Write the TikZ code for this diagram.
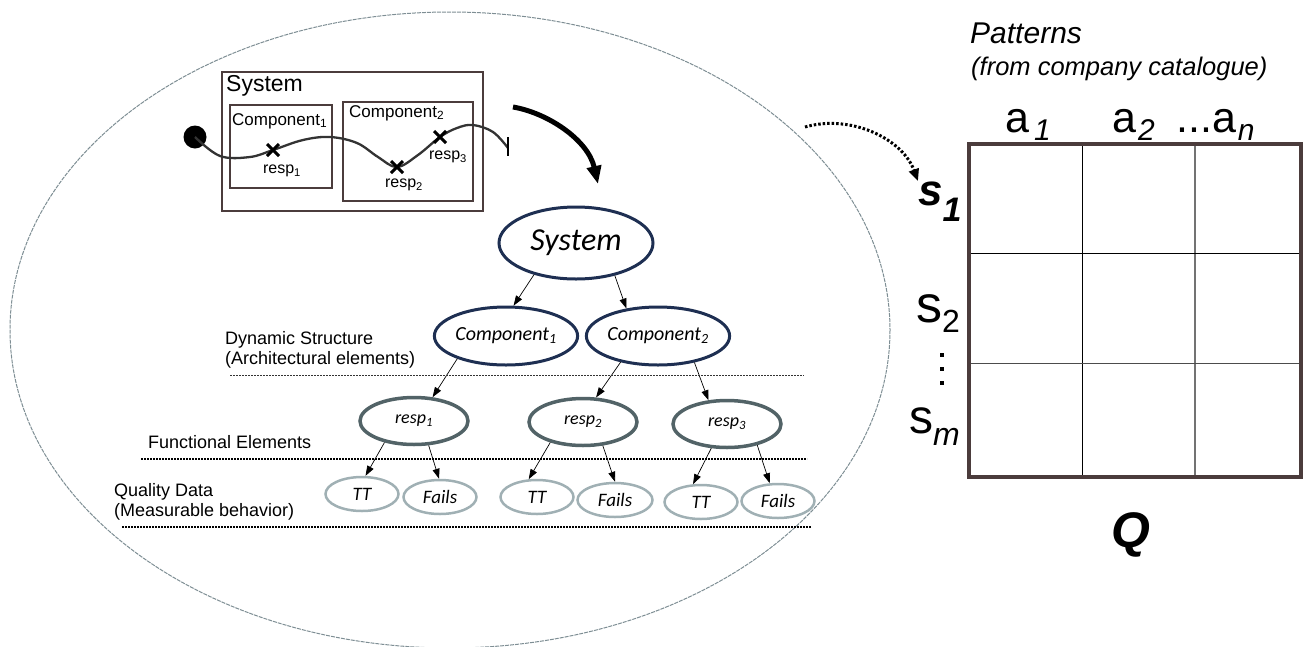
\documentclass[tikz,border=0pt]{standalone}
\usepackage{fontspec}
\setmainfont{Liberation Sans}
\newfontfamily\handfont{Carlito}
\usetikzlibrary{shapes.geometric,arrows.meta}
\definecolor{ellgray}{HTML}{7E8E94}
\definecolor{navyc}{HTML}{1E2F52}
\definecolor{respc}{HTML}{526367}
\definecolor{qualc}{HTML}{A0B0B4}
\definecolor{boxc}{HTML}{4B3C3C}
\definecolor{wavec}{HTML}{333333}
\newcommand{\myfs}[1]{\fontsize{#1}{#1}\selectfont}
\begin{document}
\begin{tikzpicture}[x=1pt,y=-1pt,
  lvlA/.style={ellipse, draw=navyc, line width=3pt, inner sep=0pt, font=\handfont\itshape\myfs{20}},
  lvlB/.style={ellipse, draw=respc, line width=3.5pt, inner sep=0pt, minimum width=108pt, minimum height=47pt, font=\handfont\itshape\myfs{18}},
  lvlC/.style={ellipse, draw=qualc, line width=2.5pt, inner sep=0pt, minimum width=73pt, minimum height=34pt, font=\handfont\itshape\myfs{19}},
  tedge/.style={-{Triangle[length=10pt,width=7pt]}, line width=0.7pt},
  lbl/.style={anchor=west, align=left, font=\myfs{18}, inner sep=0pt},
  sbox/.style={draw=boxc, line width=2.2pt},
  crossmark/.style={line width=3pt},
  smalltxt/.style={inner sep=0pt, font=\myfs{16}},
  mlbl/.style={anchor=base west, inner sep=0pt},
  sep1/.style={line width=0.7pt, dash pattern=on 2pt off 1pt, black!80},
  sep2/.style={line width=1.6pt, dash pattern=on 2pt off 1pt},
]
\useasboundingbox (0,0) rectangle (1307,646);

% big ellipse
\draw[ellgray, line width=1pt, dash pattern=on 4pt off 1pt] (450,330) ellipse [x radius=440, y radius=318];

% system box
\draw[sbox, line width=2.6pt] (222,72) rectangle (483,211);
\node[anchor=west, inner sep=0pt, font=\myfs{23}] (systxt) at (226,86) {System};
\draw[sbox] (230,105) rectangle (332,188);
\node[anchor=west, inner sep=0pt, font=\myfs{17}] (c1txt) at (232,121) {Component\textsubscript{1}};
\draw[sbox] (343,102) rectangle (473,201);
\node[anchor=west, inner sep=0pt, font=\myfs{17}] (c2txt) at (349,113) {Component\textsubscript{2}};

% wave
\node[circle, fill=black, inner sep=0pt, minimum size=23pt] (dot) at (195,137) {};
\draw[wavec, line width=2.3pt] plot[smooth, tension=0.6] coordinates {(195,137) (220,156) (250,157) (273,150) (303,140) (330,137) (357,143) (378,157) (397,167) (418,155) (440,137) (457,128) (473,125) (493,132) (508,148)};
\draw[line width=2pt] (508,137) -- (508,156);
\foreach \px/\py in {273/150, 397/167, 440/137}{
  \draw[crossmark] (\px-6,\py-6) -- (\px+6,\py+6) (\px-6,\py+6) -- (\px+6,\py-6);
}
\node[smalltxt] (r1txt) at (282,171) {resp\textsubscript{1}};
\node[smalltxt] (r2txt) at (404,185) {resp\textsubscript{2}};
\node[smalltxt] (r3txt) at (448,157) {resp\textsubscript{3}};

% big curved arrow
\coordinate (bigA) at (513,107);
\coordinate (bigB) at (598,184);
\draw[line width=5pt, -{Triangle[length=18pt,width=14pt]}] (bigA) .. controls (548,113) and (588,140) .. (bigB);

% tree
\node[lvlA, minimum width=154pt, minimum height=72pt, font=\handfont\itshape\myfs{32}] (sys) at (576,243) {System};
\node[lvlA, minimum width=122pt, minimum height=58pt] (comp1) at (506,336) {Component\textsubscript{1}};
\node[lvlA, minimum width=120pt, minimum height=58pt] (comp2) at (658,336) {Component\textsubscript{2}};
\node[lvlB] (resp1) at (414,421) {resp\textsubscript{1}};
\node[lvlB] (resp2) at (583,422) {resp\textsubscript{2}};
\node[lvlB] (resp3) at (727,424) {resp\textsubscript{3}};
\node[lvlC] (tt1) at (362,494) {TT};
\node[lvlC] (f1) at (440,497) {Fails};
\node[lvlC] (tt2) at (537,497) {TT};
\node[lvlC, minimum width=75pt] (f2) at (615,500) {Fails};
\node[lvlC] (tt3) at (701,502) {TT};
\node[lvlC] (f3) at (778,501) {Fails};

\draw[tedge] (sys.217) -- (comp1.76);
\draw[tedge] (sys.320) -- (comp2.139);
\draw[tedge] (comp1.205) -- (resp1.52);
\draw[tedge] (comp2.215) -- (resp2.62);
\draw[tedge] (comp2.324) -- (resp3.128);
\draw[tedge] (resp1.216) -- (tt1.79);
\draw[tedge] (resp1.301) -- (f1.93);
\draw[tedge] (resp2.212) -- (tt2.115);
\draw[tedge] (resp2.310) -- (f2.90);
\draw[tedge] (resp3.237) -- (tt3.114);
\draw[tedge] (resp3.325) -- (f3.115);

% separators and level labels
\coordinate (s1a) at (230,375); \coordinate (s1b) at (804,375);
\coordinate (s2a) at (141,459); \coordinate (s2b) at (807,459);
\coordinate (s3a) at (122,527); \coordinate (s3b) at (811,527);
\draw[sep1] (s1a) -- (s1b);
\draw[sep2] (s2a) -- (s2b);
\draw[sep2] (s3a) -- (s3b);
\node[lbl] (dyn) at (225,350) {Dynamic Structure\\[2pt](Architectural elements)};
\node[lbl] (fun) at (148,442) {Functional Elements};
\node[lbl] (qual) at (114,502) {Quality Data\\[2pt](Measurable behavior)};

% dotted arrow
\coordinate (dA) at (805,127);
\coordinate (dB) at (918,181);
\draw[line width=3pt, dash pattern=on 2.5pt off 2pt, -{Triangle[length=12pt,width=10pt]}] (dA) .. controls (850,114) and (902,138) .. (dB);

% matrix
\draw[line width=1pt] (1082,144) -- (1082,477);
\draw[line width=1.5pt, black!55] (1195,144) -- (1195,477);
\draw[line width=1pt] (969,253) -- (1301,253);
\draw[line width=1pt, black!70] (969,363) -- (1301,363);
\draw[line width=4pt, draw=boxc] (969,144) rectangle (1301,477);

\node[mlbl, font=\itshape\myfs{30}] (pat) at (970,43) {Patterns};
\node[mlbl, font=\itshape\myfs{25.5}] (cat) at (971,75) {(from company catalogue)};
\node[mlbl, font=\myfs{43}] (a1) at (1005,132) {a\kern5pt\lower8pt\hbox{\myfs{30}\itshape 1}};
\node[mlbl, font=\myfs{43}] (a2) at (1112,132) {a\kern2pt\lower8pt\hbox{\myfs{30}\itshape 2}};
\node[mlbl, font=\myfs{43}] (an) at (1176,132) {...a\kern2pt\lower8pt\hbox{\myfs{30}\itshape n}};
\node[mlbl, font=\bfseries\itshape\myfs{44}] (s1) at (918,205) {s\kern0pt\lower16pt\hbox{\myfs{34}\bfseries\itshape 1}};
\node[mlbl, font=\myfs{52}] (s2) at (916,322) {s\lower10pt\hbox{\myfs{32}2}};
\foreach \dy in {355,369,383}{ \fill (940,\dy-2) rectangle (944,\dy+2); }
\node[mlbl, font=\myfs{48}] (sm) at (909,433) {s\lower12pt\hbox{\myfs{32}\itshape m}};
\node[inner sep=0pt, font=\bfseries\itshape\myfs{50}] (Q) at (1131,535) {Q};
\end{tikzpicture}
\end{document}
